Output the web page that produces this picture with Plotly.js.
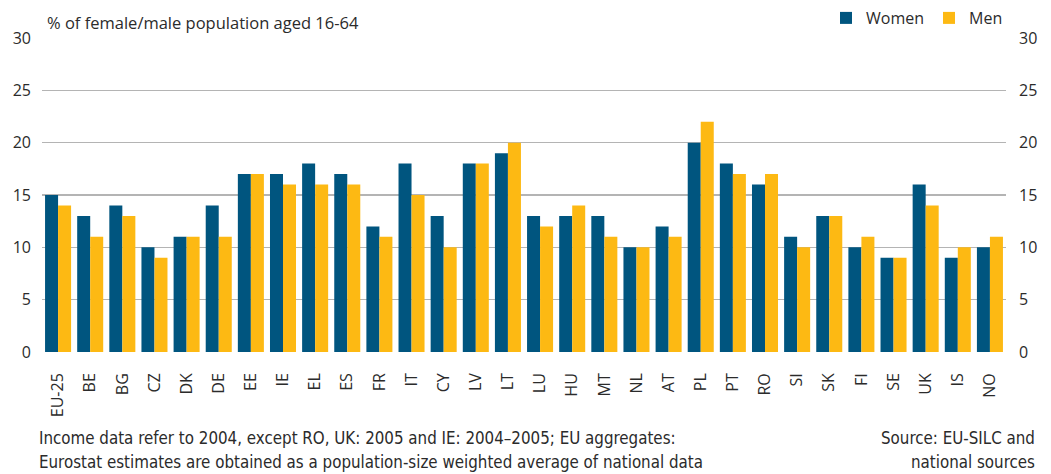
<!DOCTYPE html>
<html><head><meta charset="utf-8">
<script src="https://cdn.plot.ly/plotly-3.0.1.min.js"></script>
<style>html,body{margin:0;padding:0;background:#fff}#chart{width:1051px;height:474px}</style>
</head><body><div id="chart"></div>
<script>
const categories = ["EU-25","BE","BG","CZ","DK","DE","EE","IE","EL","ES","FR","IT","CY","LV","LT","LU","HU","MT","NL","AT","PL","PT","RO","SI","SK","FI","SE","UK","IS","NO"];
const women = [15,13,14,10,11,14,17,17,18,17,12,18,13,18,19,13,13,13,10,12,20,18,16,11,13,10,9,16,9,10];
const men   = [14,11,13,9,11,11,17,16,16,16,11,15,10,18,20,12,14,11,10,11,22,17,17,10,13,11,9,14,10,11];
const yTicks = [0,5,10,15,20,25,30];

const font = "'Open Sans', 'Noto Sans', sans-serif";
const narrow = "'Liberation Sans Narrow','DejaVu Sans Condensed',sans-serif";
const textColor = "#2b2b2b";

const traces = [
  {type:"bar", name:"Women", x:categories, y:women, marker:{color:"#00557f"}, hoverinfo:"x+y"},
  {type:"bar", name:"Men", x:categories, y:men, marker:{color:"#fdb913"}, hoverinfo:"x+y"},
  {type:"scatter", x:[categories[0]], y:[0], yaxis:"y2", mode:"markers", marker:{opacity:0}, showlegend:false, hoverinfo:"skip"}
];

const L = 42, R = 45, T = 38, B = 122;
const pw = 1051-L-R, ph = 474-T-B;
function px(x){return (x-L)/pw;}
function py(y){return (474-B-y)/ph;}

const layout = {
  width:1051, height:474,
  margin:{l:L, r:R, t:T, b:B, autoexpand:false},
  paper_bgcolor:"#fff", plot_bgcolor:"#fff",
  font:{family:font, size:14, color:textColor},
  barmode:"group", bargap:0.19, bargroupgap:0,
  showlegend:true,
  legend:{orientation:"h", x:px(1008), xref:"paper", xanchor:"right", y:py(18), yanchor:"middle",
          font:{size:16, color:textColor}, traceorder:"normal", bgcolor:"rgba(0,0,0,0)", itemwidth:30},
  xaxis:{type:"category", range:[-0.5, 29.5], tickangle:-90, showgrid:false, zeroline:false, showline:false, ticks:"",
         tickfont:{size:16, color:textColor}, ticklabelstandoff:17, automargin:false},
  yaxis:{range:[0,30], tickvals:yTicks, showgrid:true, gridcolor:"#b4b4b4", gridwidth:1.6,
         zeroline:false, showline:false, ticks:"", tickfont:{size:16, color:textColor},
         ticklabelstandoff:10, automargin:false, fixedrange:true},
  yaxis2:{range:[0,30], tickvals:yTicks, overlaying:"y", side:"right", showgrid:false,
          zeroline:false, showline:false, ticks:"", tickfont:{size:16, color:textColor},
          ticklabelstandoff:12, automargin:false, fixedrange:true},
  annotations:[
    {text:"% of female/male population aged 16-64", xref:"paper", yref:"paper", x:px(45), y:py(22), xanchor:"left", yanchor:"middle", showarrow:false, font:{size:16.5, color:textColor}},
    {text:"Income data refer to 2004, except RO, UK: 2005 and IE: 2004–2005; EU aggregates:", xref:"paper", yref:"paper", x:px(37), y:py(438), xanchor:"left", yanchor:"middle", showarrow:false, font:{family:narrow, size:16.8, color:textColor}},
    {text:"Eurostat estimates are obtained as a population-size weighted average of national data", xref:"paper", yref:"paper", x:px(37), y:py(462), xanchor:"left", yanchor:"middle", showarrow:false, font:{family:narrow, size:16.8, color:textColor}},
    {text:"Source: EU-SILC and", xref:"paper", yref:"paper", x:px(1037), y:py(438), xanchor:"right", yanchor:"middle", showarrow:false, font:{family:narrow, size:16.8, color:textColor}},
    {text:"national sources", xref:"paper", yref:"paper", x:px(1037), y:py(462), xanchor:"right", yanchor:"middle", showarrow:false, font:{family:narrow, size:16.8, color:textColor}}
  ]
};

Plotly.newPlot("chart", traces, layout, {displayModeBar:false, staticPlot:true});
</script></body></html>
